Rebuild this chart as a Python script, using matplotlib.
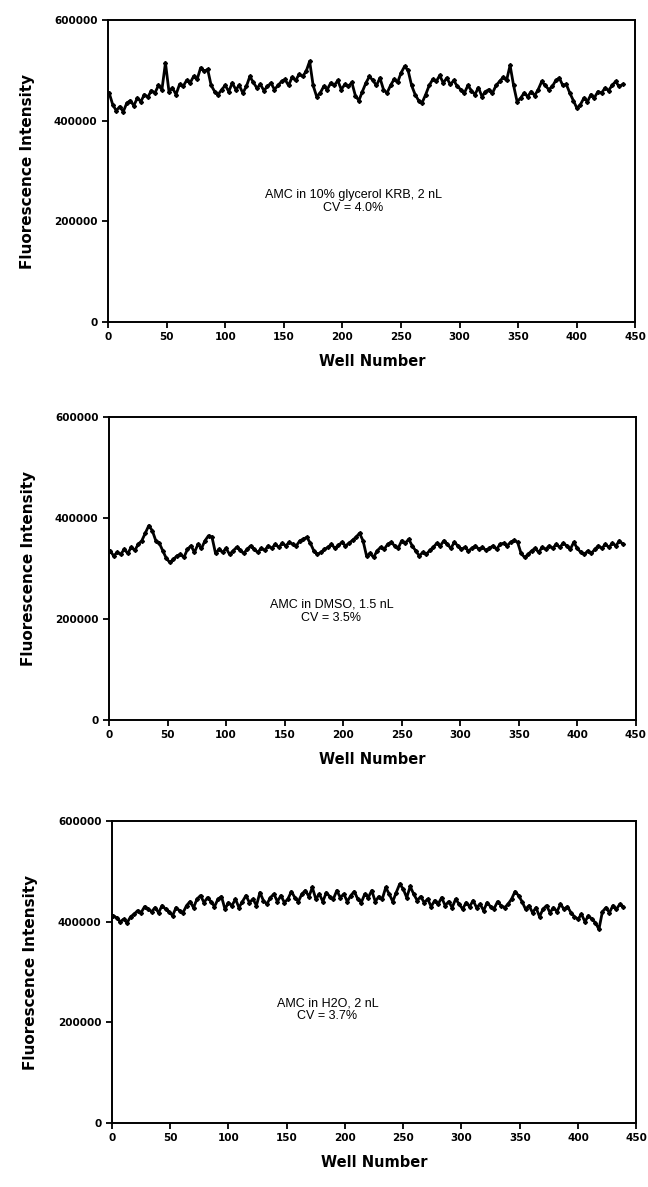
import numpy as np
import matplotlib
matplotlib.use("Agg")
import matplotlib.pyplot as plt

# well numbers sampled every 3 wells
wells = list(range(1, 440, 3))

# fluorescence values (thousands)
glycerol = [455, 432, 420, 428, 418, 435, 440, 430, 445, 438, 452, 447,
            460, 455, 470, 462, 515, 458, 465, 452, 472, 468, 480, 475,
            488, 482, 505, 498, 502, 470, 458, 452, 462, 470, 458, 475,
            462, 470, 455, 468, 488, 476, 465, 472, 460, 468, 475, 462,
            470, 478, 482, 470, 486, 480, 492, 488, 498, 518, 470, 448,
            455, 468, 462, 475, 470, 480, 462, 472, 468, 476, 450, 440,
            458, 475, 488, 480, 470, 485, 462, 455, 470, 482, 476, 495,
            508, 500, 470, 452, 440, 436, 452, 470, 482, 478, 490, 475,
            485, 472, 480, 468, 462, 455, 470, 460, 452, 466, 448, 458,
            462, 455, 470, 478, 486, 480, 510, 470, 438, 445, 455, 448,
            458, 450, 462, 478, 470, 462, 468, 480, 485, 470, 472, 455,
            440, 425, 432, 445, 438, 452, 446, 458, 455, 465, 460, 470,
            478, 468, 472]

dmso = [335, 325, 332, 328, 338, 330, 342, 336, 348, 355, 370, 385,
        375, 355, 350, 335, 320, 312, 318, 325, 328, 322, 338, 345,
        332, 348, 340, 355, 365, 362, 330, 338, 332, 340, 328, 335,
        342, 336, 330, 338, 345, 338, 332, 340, 336, 345, 340, 348,
        342, 350, 345, 352, 348, 345, 355, 358, 362, 350, 335, 328,
        332, 338, 342, 348, 340, 346, 352, 345, 350, 356, 362, 370,
        355, 325, 330, 322, 335, 342, 338, 348, 352, 345, 340, 355,
        350, 358, 345, 335, 325, 332, 328, 336, 342, 350, 345, 355,
        348, 340, 352, 345, 338, 342, 335, 340, 345, 338, 342, 336,
        340, 345, 338, 348, 350, 345, 352, 356, 352, 330, 322, 328,
        335, 340, 332, 342, 338, 345, 340, 348, 342, 350, 345, 338,
        352, 340, 332, 328, 335, 330, 338, 345, 340, 348, 342, 350,
        345, 355, 348]

water = [412, 408, 400, 405, 398, 410, 415, 422, 418, 430, 425, 420,
         428, 418, 432, 425, 420, 412, 428, 422, 418, 432, 440, 428,
         445, 452, 438, 448, 440, 430, 445, 450, 425, 438, 432, 445,
         428, 440, 452, 438, 445, 432, 458, 442, 435, 448, 455, 440,
         452, 438, 445, 460, 448, 440, 455, 462, 450, 468, 445, 455,
         440, 458, 450, 445, 462, 448, 455, 440, 452, 460, 445, 438,
         455, 448, 462, 440, 450, 445, 468, 455, 440, 458, 475, 465,
         448, 470, 455, 442, 450, 438, 445, 430, 442, 435, 448, 432,
         440, 428, 445, 435, 425, 438, 430, 442, 428, 435, 422, 438,
         430, 426, 440, 432, 428, 435, 445, 460, 452, 440, 425, 432,
         418, 428, 410, 425, 432, 418, 428, 420, 435, 425, 430, 418,
         410, 405, 415, 400, 412, 405, 398, 385, 420, 428, 418, 432,
         425, 435, 430]

labels = ["AMC in 10% glycerol KRB, 2 nL\nCV = 4.0%",
          "AMC in DMSO, 1.5 nL\nCV = 3.5%",
          "AMC in H2O, 2 nL\nCV = 3.7%"]
label_pos = [(209, 240000), (190, 215000), (185, 225000)]

fig = plt.figure(figsize=(6.48, 11.87), dpi=100)
# axes boxes in figure fractions (left, bottom, width, height)
boxes = [(0.1667, 0.7287, 0.814, 0.2544),
         (0.1682, 0.3934, 0.813, 0.2553),
         (0.1728, 0.0539, 0.809, 0.2544)]

for box, series, text, pos in zip(boxes, [glycerol, dmso, water], labels, label_pos):
    ax = fig.add_axes(box)
    ax.plot(wells, np.array(series) * 1000, color="black", lw=2.0,
            marker="D", ms=2.0, mec="black", mfc="black")
    ax.set_xlim(0, 450)
    ax.set_ylim(0, 600000)
    ax.set_xticks(range(0, 451, 50))
    ax.set_yticks([0, 200000, 400000, 600000])
    ax.tick_params(direction="out", length=4, width=1.3, labelsize=7.5)
    for lab in ax.get_xticklabels() + ax.get_yticklabels():
        lab.set_fontweight("bold")
    for sp in ax.spines.values():
        sp.set_linewidth(1.4)
    ax.set_xlabel("Well Number", fontsize=10.5, fontweight="bold", labelpad=8)
    ax.set_ylabel("Fluorescence Intensity", fontsize=11, fontweight="bold", labelpad=14)
    ax.text(pos[0], pos[1], text, ha="center", va="center", fontsize=9,
            family="Liberation Sans", linespacing=1.1)

fig.savefig("out.png", dpi=100)
